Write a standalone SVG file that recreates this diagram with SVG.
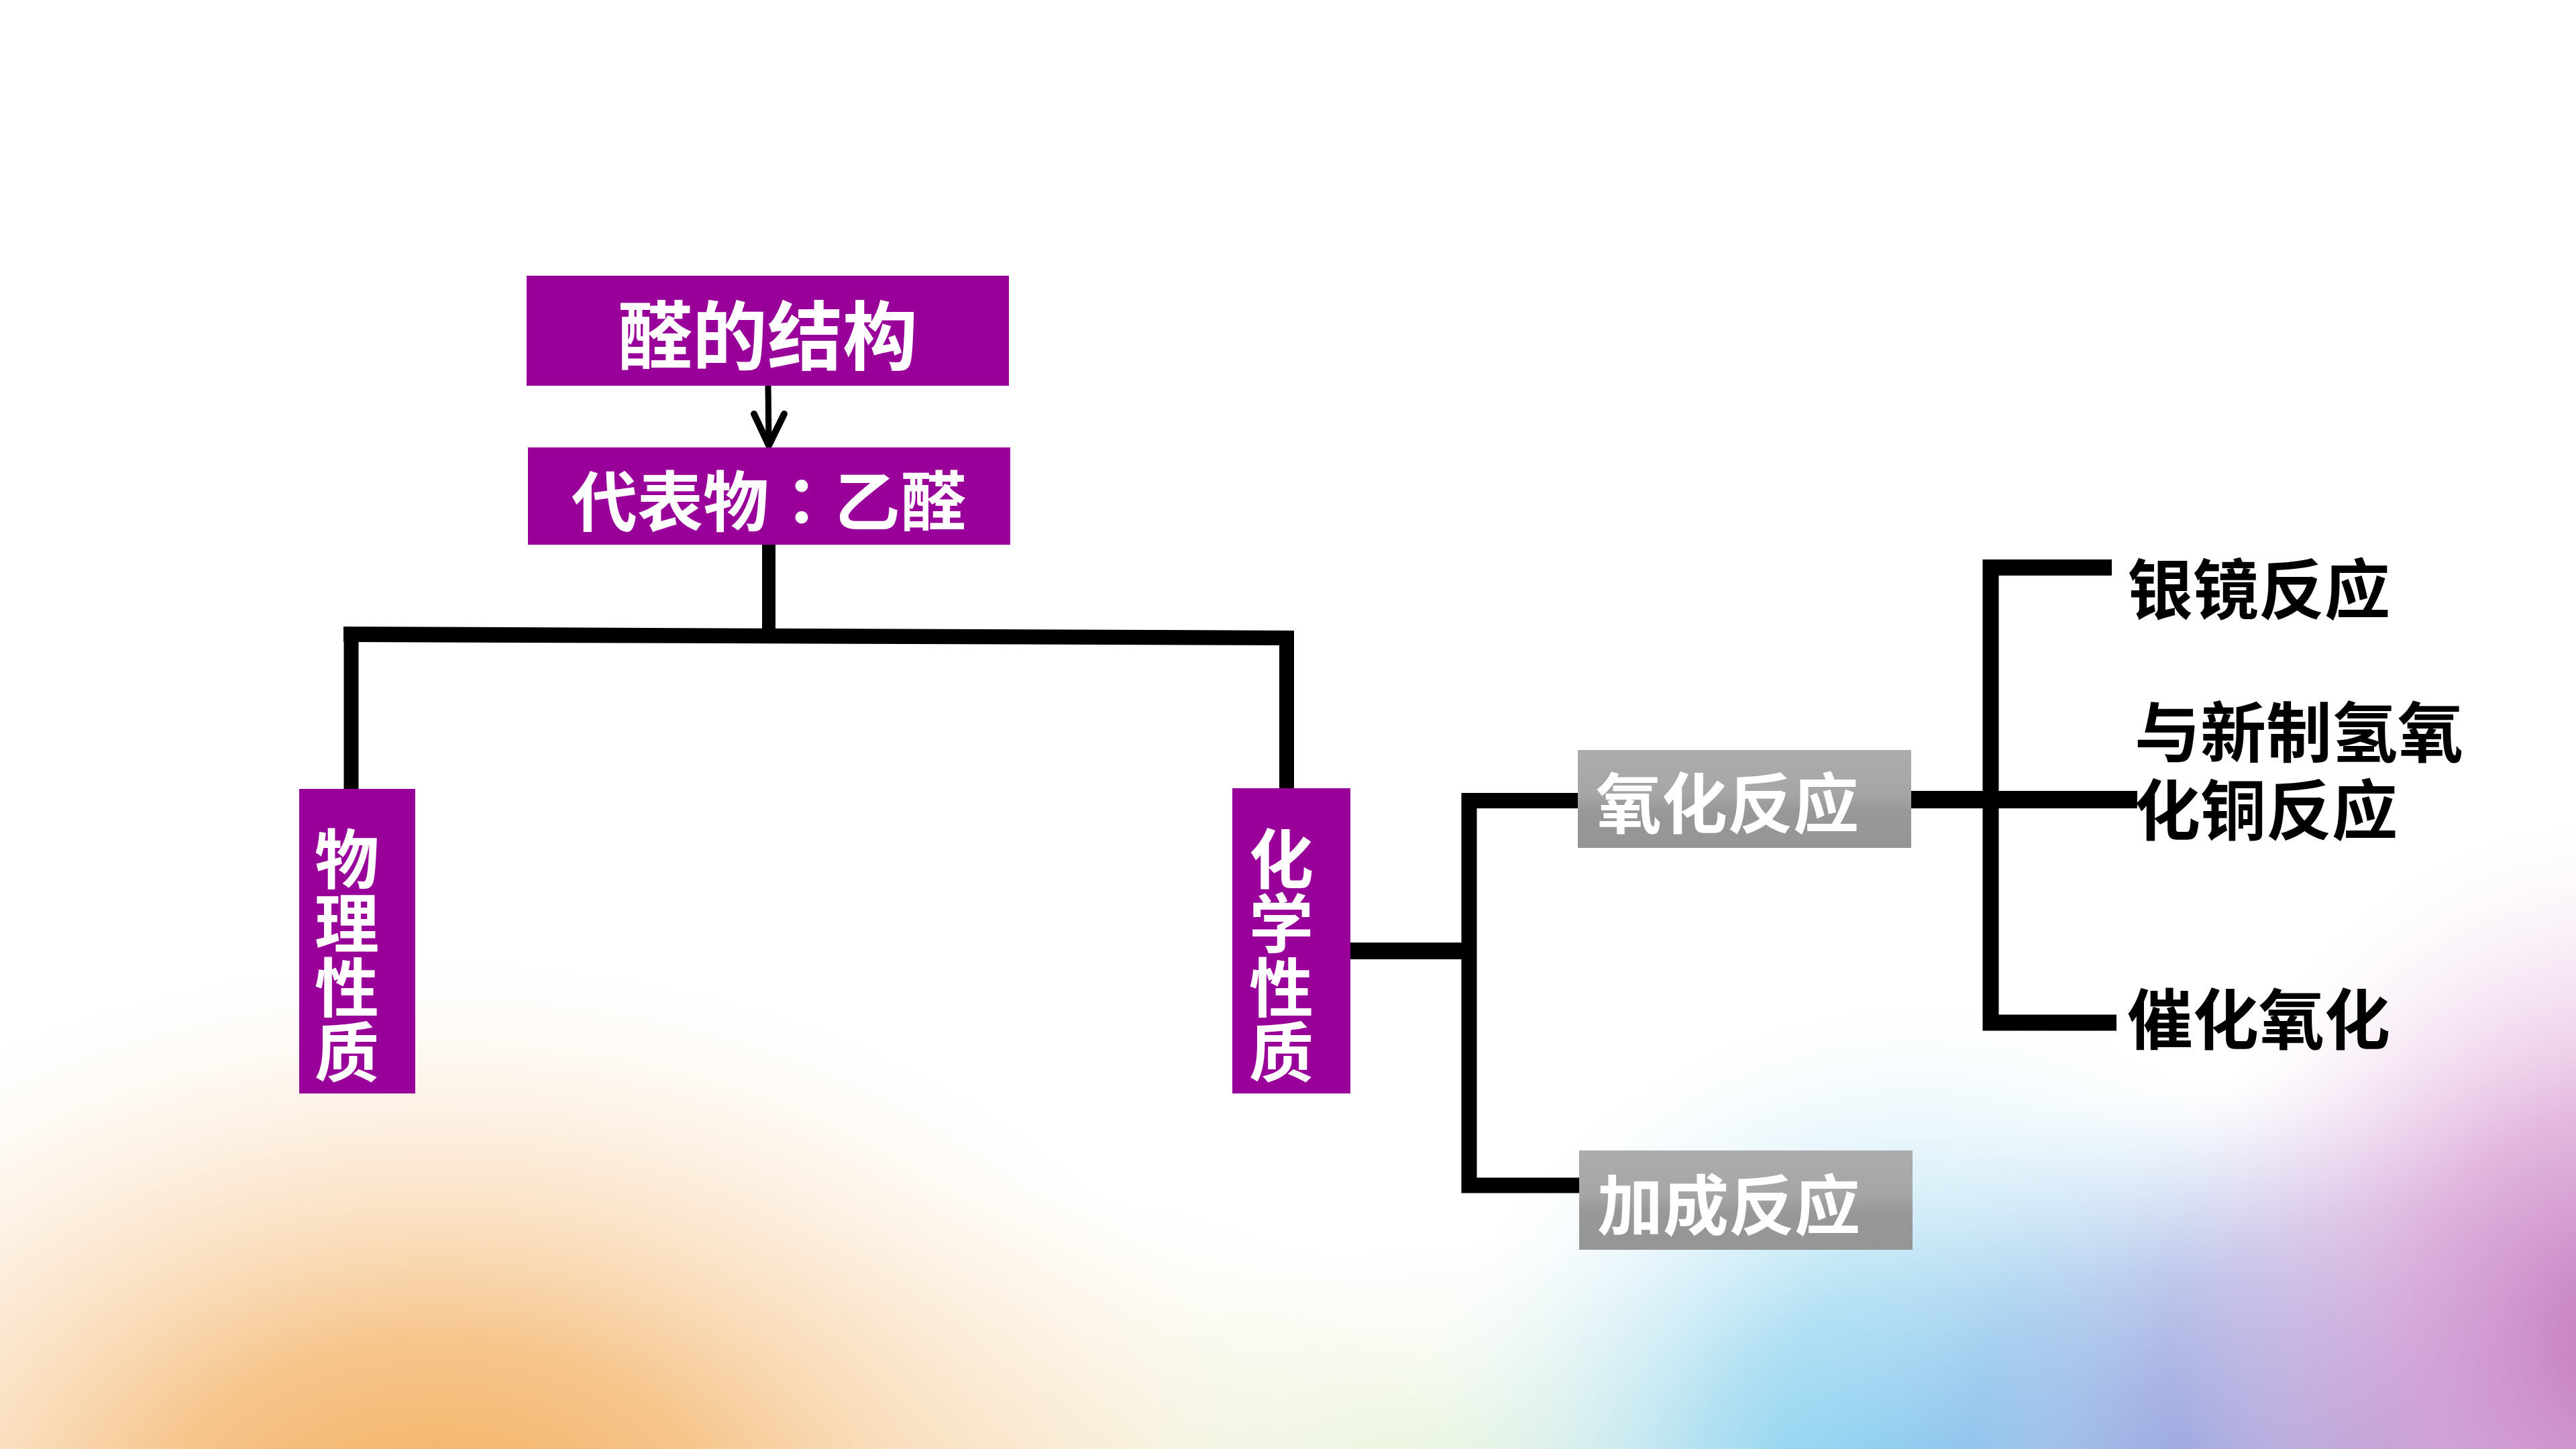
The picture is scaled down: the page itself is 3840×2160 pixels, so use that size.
<svg xmlns="http://www.w3.org/2000/svg" width="3840" height="2160" viewBox="0 0 3840 2160">
<defs>
<radialGradient id="gOrange" cx="650" cy="2300" r="1250" gradientUnits="userSpaceOnUse" gradientTransform="translate(650 2300) scale(1 0.7) translate(-650 -2300)">
<stop offset="0" stop-color="#f3ab56" stop-opacity="1"/>
<stop offset="0.35" stop-color="#f5bf80" stop-opacity="0.9"/>
<stop offset="0.7" stop-color="#fae0c2" stop-opacity="0.55"/>
<stop offset="1" stop-color="#fdf3e6" stop-opacity="0"/>
</radialGradient>
<radialGradient id="gCream" cx="1550" cy="2260" r="700" gradientUnits="userSpaceOnUse" gradientTransform="translate(1550 2260) scale(1 0.7) translate(-1550 -2260)">
<stop offset="0" stop-color="#f6e8c8" stop-opacity="0.9"/>
<stop offset="1" stop-color="#faf3e2" stop-opacity="0"/>
</radialGradient>
<radialGradient id="gGreen" cx="2150" cy="2260" r="700" gradientUnits="userSpaceOnUse" gradientTransform="translate(2150 2260) scale(1 0.6) translate(-2150 -2260)">
<stop offset="0" stop-color="#e2f1d2" stop-opacity="1"/>
<stop offset="1" stop-color="#f2f8ea" stop-opacity="0"/>
</radialGradient>
<radialGradient id="gCyan" cx="2860" cy="2270" r="780" gradientUnits="userSpaceOnUse">
<stop offset="0" stop-color="#5cc0ee" stop-opacity="1"/>
<stop offset="0.45" stop-color="#9cd8f0" stop-opacity="0.75"/>
<stop offset="1" stop-color="#e4f4fa" stop-opacity="0"/>
</radialGradient>
<radialGradient id="gBlue" cx="3270" cy="2230" r="620" gradientUnits="userSpaceOnUse">
<stop offset="0" stop-color="#64a0e2" stop-opacity="1"/>
<stop offset="0.55" stop-color="#9cbfea" stop-opacity="0.6"/>
<stop offset="1" stop-color="#dfe8f8" stop-opacity="0"/>
</radialGradient>
<radialGradient id="gPurple" cx="3560" cy="2180" r="620" gradientUnits="userSpaceOnUse">
<stop offset="0" stop-color="#9a8cd0" stop-opacity="1"/>
<stop offset="0.6" stop-color="#c4b0e0" stop-opacity="0.5"/>
<stop offset="1" stop-color="#ece4f6" stop-opacity="0"/>
</radialGradient>
<radialGradient id="gPink" cx="3900" cy="2000" r="780" gradientUnits="userSpaceOnUse" gradientTransform="translate(3900 2000) scale(0.85 1) translate(-3900 -2000)">
<stop offset="0" stop-color="#c278bc" stop-opacity="1"/>
<stop offset="0.45" stop-color="#dca4d6" stop-opacity="0.75"/>
<stop offset="1" stop-color="#f6e4f4" stop-opacity="0"/>
</radialGradient>
<linearGradient id="gGray" x1="0" y1="0" x2="0" y2="1">
<stop offset="0" stop-color="#acacac"/>
<stop offset="0.45" stop-color="#a6a6a6"/>
<stop offset="0.62" stop-color="#989898"/>
<stop offset="1" stop-color="#959595"/>
</linearGradient>
<style>
.purple{fill:#990099;}
.gray{fill:url(#gGray);}
.t{font-family:"Noto Sans CJK SC","Noto Sans CJK TC",sans-serif;font-weight:700;dominant-baseline:central;}
.v{font-family:"Noto Sans CJK SC","Noto Sans CJK TC",sans-serif;font-weight:700;writing-mode:vertical-rl;text-orientation:upright;font-size:96px;fill:#ffffff;}
.w{fill:#ffffff;}
.k{fill:#000000;}
.line{fill:none;stroke:#000000;stroke-linejoin:miter;stroke-linecap:butt;}
</style>
</defs>

<g id="background">
<rect x="0" y="0" width="3840" height="2160" fill="#ffffff"/>
<rect x="0" y="1200" width="3840" height="960" fill="url(#gCream)"/>
<rect x="0" y="1200" width="3840" height="960" fill="url(#gGreen)"/>
<rect x="0" y="1200" width="3840" height="960" fill="url(#gOrange)"/>
<rect x="0" y="1200" width="3840" height="960" fill="url(#gCyan)"/>
<rect x="0" y="1200" width="3840" height="960" fill="url(#gBlue)"/>
<rect x="0" y="1200" width="3840" height="960" fill="url(#gPurple)"/>
<rect x="0" y="1200" width="3840" height="960" fill="url(#gPink)"/>
</g>

<g id="connectors">
<path class="line" d="M1145,575 L1146,660" stroke-width="9"/>
<path d="M1124,617 L1146,664 L1169,617" fill="none" stroke="#000" stroke-width="10" stroke-linecap="round" stroke-linejoin="round"/>
<path class="line" d="M1146,812 V945" stroke-width="20"/>
<polygon points="512,934 1929,940 1929,962 512,957" fill="#000"/>
<path class="line" d="M523.5,936 V1176" stroke-width="22"/>
<path class="line" d="M1918,945 V1186" stroke-width="22"/>
<path class="line" d="M2013,1417.5 H2190" stroke-width="25"/>
<path class="line" d="M2352,1193.5 H2190 V1767 H2354" stroke-width="23"/>
<path class="line" d="M2849,1192 H3186" stroke-width="26"/>
<path class="line" d="M3148,846 H2967.5 V1524.5 H3155" stroke-width="24"/>
</g>

<g id="node-structure">
<rect class="purple" x="785" y="411" width="719" height="164"/>
<text class="t w" x="1144" y="494" font-size="112" text-anchor="middle">醛的结构</text>
</g>

<g id="node-acetaldehyde">
<rect class="purple" x="787" y="667" width="719" height="145"/>
<text class="t w" x="1146" y="741" font-size="98" text-anchor="middle">代表物<tspan font-family="'Noto Sans CJK TC','Noto Sans CJK SC',sans-serif">：</tspan>乙醛</text>
</g>

<g id="node-physical">
<rect class="purple" x="446" y="1176" width="173" height="454"/>
<text class="v" x="517" y="1424" text-anchor="middle">物理性质</text>
</g>

<g id="node-chemical">
<rect class="purple" x="1837" y="1175" width="176" height="455"/>
<text class="v" x="1910" y="1424" text-anchor="middle">化学性质</text>
</g>

<g id="node-oxidation">
<rect class="gray" x="2352" y="1118" width="497" height="146"/>
<text class="t w" x="2379" y="1191" font-size="98">氧化反应</text>
</g>

<g id="node-addition">
<rect class="gray" x="2354" y="1715" width="497" height="148"/>
<text class="t w" x="2381" y="1790" font-size="98">加成反应</text>
</g>

<g id="node-silver-mirror">
<text class="t k" x="3171" y="872" font-size="98">银镜反应</text>
</g>

<g id="node-copper-hydroxide">
<text class="t k" font-size="98"><tspan x="3182" y="1085">与新制氢氧</tspan><tspan x="3182" y="1201">化铜反应</tspan></text>
</g>

<g id="node-catalytic">
<text class="t k" x="3171" y="1513" font-size="98">催化氧化</text>
</g>
</svg>
